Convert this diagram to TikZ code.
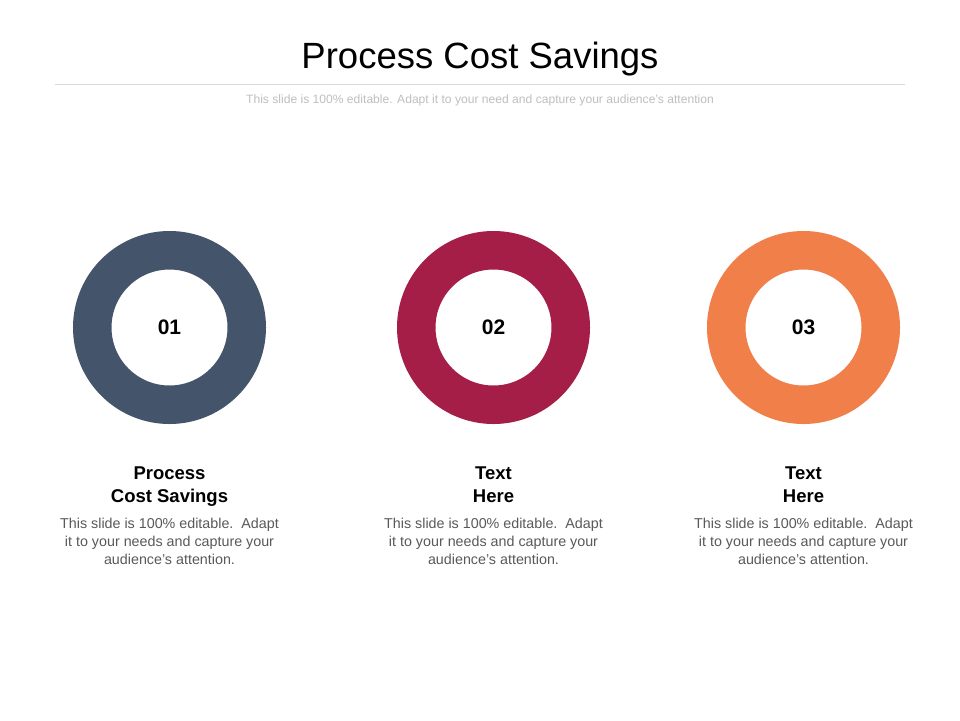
\documentclass[tikz,border=0pt]{standalone}
\usepackage{fontspec}
\setmainfont{Liberation Sans}
\definecolor{ringA}{HTML}{44546A}
\definecolor{ringB}{HTML}{A51E48}
\definecolor{ringC}{HTML}{F07F4A}
\definecolor{bodygray}{HTML}{595959}
\definecolor{subgray}{HTML}{BFBFBF}
\definecolor{rulegray}{HTML}{D9D9D9}
\tikzset{
  ring/.style={circle, draw=#1, line width=38.5pt, minimum size=154.5pt, inner sep=0pt,
    font=\bfseries\fontsize{21}{24}\selectfont, text=black},
  heading/.style={align=center, font=\bfseries\fontsize{18.5}{23}\selectfont, text=black, inner sep=0pt},
  body/.style={align=center, font=\fontsize{14.3}{18}\selectfont, text=bodygray, inner sep=0pt},
}
\begin{document}
\begin{tikzpicture}[x=1pt,y=-1pt]
\useasboundingbox[fill=white] (0,0) rectangle (960,720);
\node[font=\fontsize{36.5}{42}\selectfont, inner sep=0pt] (title) at (480,59) {Process Cost Savings};
\coordinate (ruleL) at (55,84);
\coordinate (ruleR) at (905,84);
\draw[rulegray, line width=0.8pt] (ruleL) -- (ruleR);
\node[font=\fontsize{12.1}{14}\selectfont, text=subgray, inner sep=0pt] (sub) at (480,100) {This slide is 100\% editable. Adapt it to your need and capture your audience's attention};

\node[ring=ringA] (r1) at (169.5,327.5) {01};
\node[ring=ringB] (r2) at (493.5,327.5) {02};
\node[ring=ringC] (r3) at (803.5,327.5) {03};

\node[heading] (h1) at (169.5,487) {Process\\Cost Savings};
\node[heading] (h2) at (493.5,485) {Text\\Here};
\node[heading] (h3) at (803.5,485) {Text\\Here};

\node[body] (b1) at (169.5,541.5) {This slide is 100\% editable.\ \ Adapt\\it to your needs and capture your\\audience's attention.};
\node[body] (b2) at (493.5,541.5) {This slide is 100\% editable.\ \ Adapt\\it to your needs and capture your\\audience's attention.};
\node[body] (b3) at (803.5,541.5) {This slide is 100\% editable.\ \ Adapt\\it to your needs and capture your\\audience's attention.};
\end{tikzpicture}
\end{document}
